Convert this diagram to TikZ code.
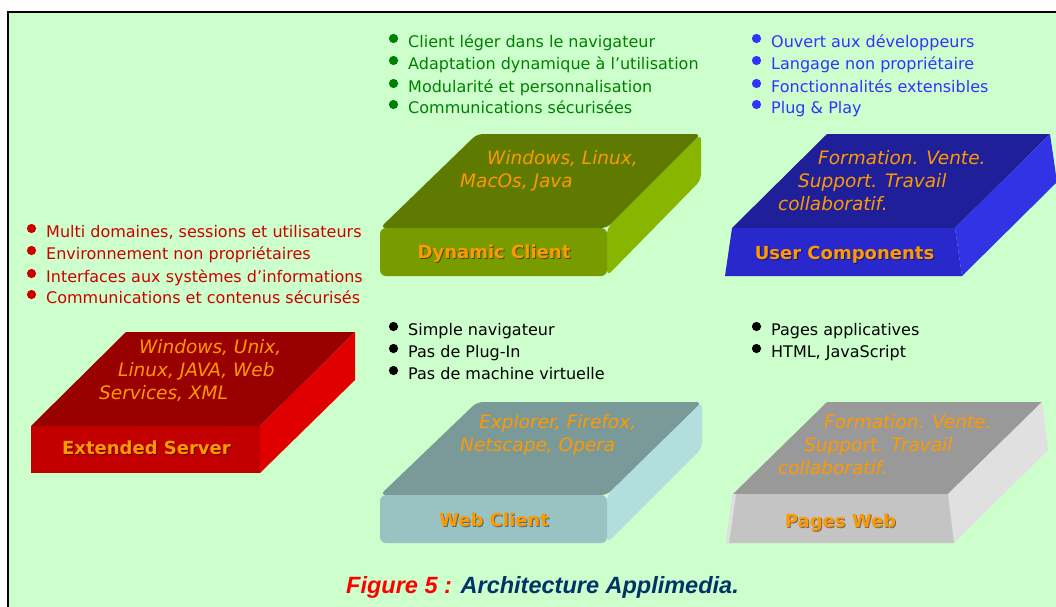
\documentclass[tikz,border=0pt]{standalone}
\usepackage{fontspec}
\setmainfont{DejaVu Sans}
\newfontfamily\capfont{Liberation Sans}

\definecolor{bg}{HTML}{CCFFCC}
\definecolor{orangetxt}{HTML}{FF9900}
\definecolor{redtxt}{HTML}{CC0000}
\definecolor{greentxt}{HTML}{008000}
\definecolor{bluetxt}{HTML}{3333FF}
\definecolor{captionred}{HTML}{FF0000}
\definecolor{captionblue}{HTML}{003366}
% slab colours: top / front / side
\definecolor{srvTop}{HTML}{990000}\definecolor{srvFront}{HTML}{C20000}\definecolor{srvSide}{HTML}{E00000}
\definecolor{dynTop}{HTML}{5E7A00}\definecolor{dynFront}{HTML}{789C00}\definecolor{dynSide}{HTML}{88B600}
\definecolor{usrTop}{HTML}{1F1F99}\definecolor{usrFront}{HTML}{2828CC}\definecolor{usrSide}{HTML}{3333E6}
\definecolor{webTop}{HTML}{7A9999}\definecolor{webFront}{HTML}{99C2C2}\definecolor{webSide}{HTML}{B3DEDE}
\definecolor{pgTop}{HTML}{999999}\definecolor{pgFront}{HTML}{C4C4C4}\definecolor{pgSide}{HTML}{E0E0E0}

\tikzset{
  bullettext/.style={anchor=base west, inner sep=0pt, font=\fontsize{16}{16}\selectfont},
  facetext/.style={anchor=base west, inner sep=0pt, text=orangetxt, font=\itshape\fontsize{18.5}{18.5}\selectfont},
  slablabel/.style={anchor=base, inner sep=0pt, text=orangetxt, font=\bfseries\fontsize{18}{18}\selectfont},
  slabshadow/.style={anchor=base, inner sep=0pt, text=black, opacity=0.45, font=\bfseries\fontsize{18}{18}\selectfont},
}

% bullet list: #1 name prefix, #2 x of text, #3 colour, #4 list of baseline/text
\newcommand\bulletlist[4]{%
  \foreach \yy/\tt [count=\k] in {#4}{%
    \fill[#3] (#2-14.5,\yy-8.5) circle (4.6);
    \node[bullettext, text=#3] (#1\k) at (#2,\yy) {\tt};
  }%
}
% front label with a soft drop shadow
\newcommand\slabtitle[4]{%
  \node[slabshadow] at (#2+1,#3+1) {#4};
  \node[slablabel] (#1) at (#2,#3) {#4};
}

\begin{document}
\begin{tikzpicture}[x=1pt,y=-1pt]
\useasboundingbox (0,0) rectangle (1056,606);
\clip (0,0) rectangle (1056,606);
\fill[white] (0,0) rectangle (1056,606);
\filldraw[fill=bg, draw=black, line width=2] (8,12) rectangle (1075,625);

% ---------- Extended Server ----------
\fill[srvTop] (126,332) -- (355,332) -- (260,426) -- (31,426) -- cycle;
\fill[srvSide] (355,332) -- (355,380) -- (260,473) -- (260,426) -- cycle;
\fill[srvFront] (31,426) rectangle (260,473);
\node[facetext] (srv1) at (139,353) {Windows, Unix,};
\node[facetext] (srv2) at (118,376) {Linux, JAVA, Web};
\node[facetext] (srv3) at (99,399) {Services, XML};
\slabtitle{srvlab}{146.5}{454}{Extended Server}

% ---------- Dynamic Client ----------
\fill[dynTop, rounded corners=6] (477,134) -- (701,134) -- (607,228) -- (380,228) -- cycle;
\fill[dynSide, rounded corners=6] (701,134) -- (701,180) -- (607,276) -- (607,228) -- cycle;
\fill[dynFront, rounded corners=6] (380,228) rectangle (607,276);
\node[facetext] (dyn1) at (487,164) {Windows, Linux,};
\node[facetext] (dyn2) at (460,187) {MacOs, Java};
\slabtitle{dynlab}{494}{258}{Dynamic Client}

% ---------- User Components ----------
\fill[usrTop] (827,134) -- (1050,134) -- (955,228) -- (732,228) -- cycle;
\fill[usrSide] (1050,134) -- (1057,182) -- (962,276) -- (955,228) -- cycle;
\fill[usrFront] (732,228) -- (955,228) -- (962,276) -- (725,276) -- cycle;
\node[facetext] (usr1) at (818,164) {Formation. Vente.};
\node[facetext] (usr2) at (798,187) {Support. Travail};
\node[facetext] (usr3) at (778,210) {collaboratif.};
\slabtitle{usrlab}{844.5}{259}{User Components}

% ---------- Web Client ----------
\fill[webTop, rounded corners=6] (477,402) -- (702,402) -- (607,495) -- (380,495) -- cycle;
\fill[webSide, rounded corners=6] (702,402) -- (702,448) -- (607,543) -- (607,495) -- cycle;
\fill[webFront, rounded corners=6] (380,495) rectangle (607,543);
\node[facetext] (web1) at (479,428) {Explorer, Firefox,};
\node[facetext] (web2) at (460,451) {Netscape, Opera};
\slabtitle{weblab}{494}{526}{Web Client}

% ---------- Pages Web ----------
\fill[pgTop] (827,402) -- (1042,402) -- (948,494) -- (733,494) -- cycle;
\fill[pgSide] (1042,402) -- (1048,450) -- (954,543) -- (948,494) -- cycle;
\fill[pgFront] (733,494) -- (948,494) -- (954,543) -- (726,543) -- cycle;
\fill[pgSide] (733,494) -- (736,494) -- (729,543) -- (726,543) -- cycle;
\node[facetext] (pg1) at (824,428) {Formation. Vente.};
\node[facetext] (pg2) at (804,451) {Support. Travail};
\node[facetext] (pg3) at (778,474) {collaboratif.};
\slabtitle{pglab}{840.5}{527}{Pages Web}

% ---------- bullet lists ----------
\bulletlist{red}{46}{redtxt}{237/{Multi domaines, sessions et utilisateurs},259/{Environnement non propriétaires},282/{Interfaces aux systèmes d’informations},303/{Communications et contenus sécurisés}}
\bulletlist{grn}{408}{greentxt}{47/{Client léger dans le navigateur},69/{Adaptation dynamique à l’utilisation},92/{Modularité et personnalisation},113/{Communications sécurisées}}
\bulletlist{blu}{771}{bluetxt}{47/{Ouvert aux développeurs},69/{Langage non propriétaire},92/{Fonctionnalités extensibles},113/{Plug \& Play}}
\bulletlist{blkw}{408}{black}{335/{Simple navigateur},357/{Pas de Plug-In},379/{Pas de machine virtuelle}}
\bulletlist{blkp}{771}{black}{335/{Pages applicatives},357/{HTML, JavaScript}}

% ---------- caption ----------
\node[anchor=base, inner sep=0pt, font=\capfont\bfseries\itshape\fontsize{23.5}{24}\selectfont] (caption) at (542.5,593)
  {\textcolor{captionred}{Figure 5 :} \textcolor{captionblue}{Architecture Applimedia.}};
\end{tikzpicture}
\end{document}
